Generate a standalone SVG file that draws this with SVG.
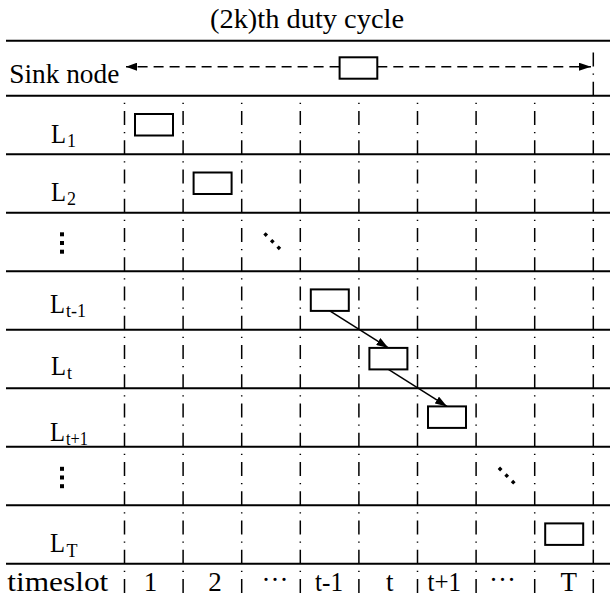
<svg xmlns="http://www.w3.org/2000/svg" width="610" height="599" viewBox="0 0 610 599">
<defs>
<style>
.t{font-family:"Liberation Serif","Times New Roman",serif;fill:#000;font-size:27px}
.L{font-size:28px}
.s{font-size:18px}
.h{stroke:#000;stroke-width:2;fill:none}
.v{stroke:#000;stroke-width:1.5;fill:none;stroke-dasharray:14 7 1.25 7;stroke-dashoffset:14}
.box{fill:#fff;stroke:#000;stroke-width:2}
.da{stroke:#000;stroke-width:1.5;fill:none;stroke-dasharray:10 6}
.ar{stroke:#000;stroke-width:1.5;fill:none}
</style>
<marker id="ah" viewBox="0 0 12 8" refX="12" refY="4" markerWidth="12" markerHeight="8" markerUnits="userSpaceOnUse" orient="auto">
<path d="M0,0 L12,4 L0,8 Z" fill="#000"/>
</marker>
<marker id="ahs" viewBox="0 0 11 8" refX="11" refY="4" markerWidth="11" markerHeight="8" markerUnits="userSpaceOnUse" orient="auto-start-reverse">
<path d="M0,0 L11,4 L0,8 Z" fill="#000"/>
</marker>
</defs>
<rect width="610" height="599" fill="#fff"/>

<g id="grid">
<path class="h" d="M6 40.7H610M6 95.7H610M6 154.2H610M6 212.7H610M6 271.2H610M6 329.7H610M6 388.2H610M6 446.7H610M6 505.2H610M6 563.7H610"/>
<path class="v" d="M124.5 95.7V599M183.1 95.7V599M241.7 95.7V599M300.3 95.7V599M358.9 95.7V599M417.5 95.7V599M476.1 95.7V599M534.7 95.7V599"/>
<path class="v" style="stroke-dashoffset:0" d="M593.3 52.45V599"/>
</g>

<g id="labels">
<text class="t" x="210" y="28" textLength="194" lengthAdjust="spacingAndGlyphs">(2k)th duty cycle</text>
<text class="t" x="9.3" y="82.5" textLength="110" lengthAdjust="spacingAndGlyphs">Sink node</text>
<text class="t L" x="51" y="142.7" textLength="15" lengthAdjust="spacingAndGlyphs">L</text><text class="t s" x="67" y="146.5">1</text>
<text class="t L" x="51" y="200.7" textLength="15" lengthAdjust="spacingAndGlyphs">L</text><text class="t s" x="67" y="204.5">2</text>
<text class="t L" x="50" y="313.3" textLength="15" lengthAdjust="spacingAndGlyphs">L</text><text class="t s" x="66" y="317" textLength="20" lengthAdjust="spacingAndGlyphs">t-1</text>
<text class="t L" x="51" y="375" textLength="15" lengthAdjust="spacingAndGlyphs">L</text><text class="t s" x="67" y="378.8">t</text>
<text class="t L" x="50" y="440.7" textLength="15" lengthAdjust="spacingAndGlyphs">L</text><text class="t s" x="66" y="444.5" textLength="22" lengthAdjust="spacingAndGlyphs">t+1</text>
<text class="t L" x="50" y="552" textLength="15" lengthAdjust="spacingAndGlyphs">L</text><text class="t s" x="66.5" y="556.5">T</text>
<text class="t" x="7.3" y="591" textLength="101" lengthAdjust="spacingAndGlyphs">timeslot</text>
<g class="t" text-anchor="middle">
<text x="150.5" y="591">1</text>
<text x="215" y="591">2</text>
<text x="275" y="589">···</text>
<text x="329" y="591" textLength="28" lengthAdjust="spacingAndGlyphs">t-1</text>
<text x="389.7" y="591">t</text>
<text x="444.3" y="591" textLength="33.5" lengthAdjust="spacingAndGlyphs">t+1</text>
<text x="502.5" y="589">···</text>
<text x="568.8" y="591">T</text>
</g>
</g>

<g id="ellipses" fill="#000">
<rect x="60" y="232.3" width="4" height="4"/><rect x="60" y="241" width="4" height="4"/><rect x="60" y="249.7" width="4" height="4"/>
<rect x="60" y="466.8" width="4" height="4"/><rect x="60" y="475.5" width="4" height="4"/><rect x="60" y="484.2" width="4" height="4"/>
<path d="M265.7 232.2l2.4 2.4-2.4 2.4-2.4-2.4zM272.3 238.9l2.4 2.4-2.4 2.4-2.4-2.4zM278.8 245.4l2.4 2.4-2.4 2.4-2.4-2.4z"/>
<path d="M500.1 466.6l2.4 2.4-2.4 2.4-2.4-2.4zM506.7 473.3l2.4 2.4-2.4 2.4-2.4-2.4zM513.2 479.8l2.4 2.4-2.4 2.4-2.4-2.4z"/>
</g>

<g id="connectors">
<path class="da" d="M339.6 66.7H126" marker-end="url(#ahs)"/>
<path class="da" d="M377.3 66.7H591" marker-end="url(#ah)"/>
<path class="ar" d="M329.8 310.9L388.4 347.9" marker-end="url(#ah)"/>
<path class="ar" d="M388.4 369.4L447 406.4" marker-end="url(#ah)"/>
</g>

<g id="sink"><rect class="box" x="339.6" y="57.3" width="37.7" height="21.4"/></g>
<g id="L1"><rect class="box" x="135" y="114" width="38" height="21.5"/></g>
<g id="L2"><rect class="box" x="193.6" y="172.5" width="38" height="21.5"/></g>
<g id="Lt-1"><rect class="box" x="310.8" y="289.4" width="38" height="21.5"/></g>
<g id="Lt"><rect class="box" x="369.4" y="347.9" width="38" height="21.5"/></g>
<g id="Lt+1"><rect class="box" x="428" y="406.4" width="38" height="21.5"/></g>
<g id="LT"><rect class="box" x="545.2" y="523.4" width="38" height="21.5"/></g>
</svg>
